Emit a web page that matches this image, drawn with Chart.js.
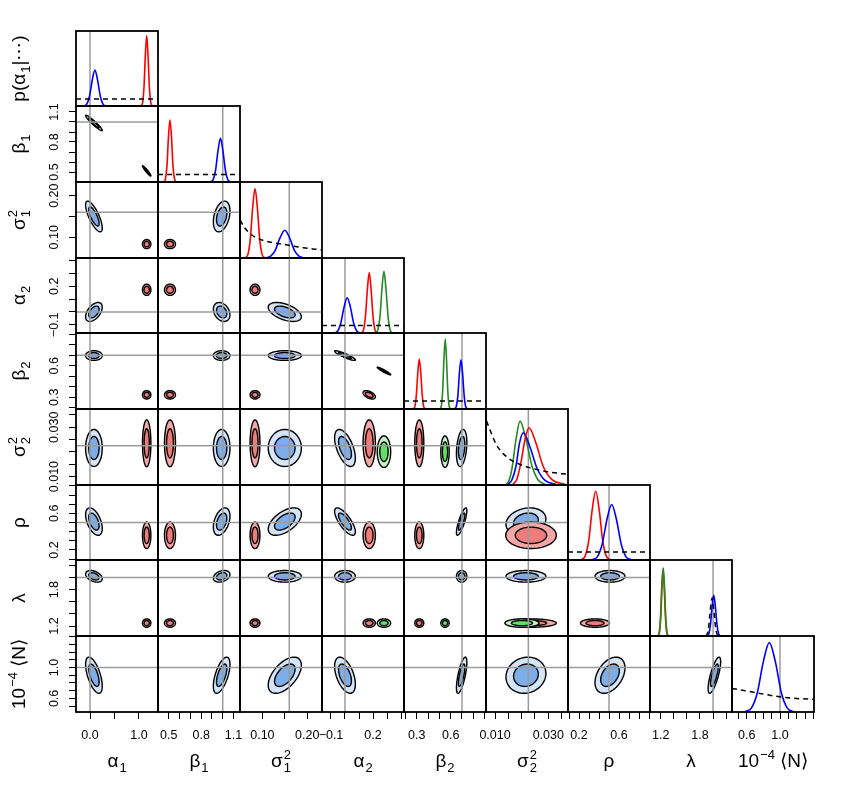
<!DOCTYPE html>
<html lang="en">
<head>
    <meta charset="UTF-8">
    <title>Posterior corner plot</title>
    <script src="https://cdn.jsdelivr.net/npm/chart.js"></script>
    <style>
        body { margin: 0; background: #fff; }
        #plot { position: relative; width: 844px; height: 788px; overflow: hidden; }
        #plot canvas { position: absolute; }
    </style>
</head>
<body>
<div id="plot"></div>
<script>
    // Parameters: a1, b1, s1^2, a2, b2, s2^2, rho, lambda, 1e-4 <N>
    const axisMin = [-0.286, 0.40, 0.05, -0.164, 0.188, 0.0066, 0.09, 1.037, 0.424];
    const axisMax = [1.388, 1.16, 0.233, 0.421, 0.912, 0.0374, 0.91, 2.289, 1.408];
    const trueValues = [0, 1.0, 0.16, 0.0, 0.7, 0.0225, 0.5, 2.0, 1.0];

    const tickValues = [
        [0, 0.5, 1.0],
        [0.5, 0.6, 0.7, 0.8, 0.9, 1.0, 1.1],
        [0.10, 0.15, 0.20],
        [-0.1, 0, 0.1, 0.2, 0.3, 0.4],
        [0.2, 0.3, 0.4, 0.5, 0.6, 0.7, 0.8, 0.9],
        [0.010, 0.015, 0.020, 0.025, 0.030, 0.035],
        [0.1, 0.2, 0.3, 0.4, 0.5, 0.6, 0.7, 0.8, 0.9],
        [1.2, 1.4, 1.6, 1.8, 2.0, 2.2],
        [0.5, 0.6, 0.7, 0.8, 0.9, 1.0, 1.1, 1.2, 1.3, 1.4]
    ];
    const tickLabels = [
        ['0.0', '', '1.0'],
        ['0.5', '', '', '0.8', '', '', '1.1'],
        ['0.10', '', '0.20'],
        ['\u22120.1', '', '', '0.2', '', ''],
        ['', '0.3', '', '', '0.6', '', '', ''],
        ['0.010', '', '', '', '0.030', ''],
        ['', '0.2', '', '', '', '0.6', '', '', ''],
        ['1.2', '', '', '1.8', '', ''],
        ['', '0.6', '', '', '', '1.0', '', '', '', '']
    ];

    // posterior summaries (centre, half-width of outer contour)
    const centerBlue = [0.08, 0.99, 0.150, 0.0, 0.697, 0.0216, 0.51, 2.02, 0.90];
    const spreadBlue = [0.17, 0.077, 0.037, 0.074, 0.046, 0.0075, 0.15, 0.096, 0.234];
    const centerRed = [1.157, 0.511, 0.0835, 0.173, 0.323, 0.0235, 0.36, 1.25, null];
    const spreadRed = [0.086, 0.051, 0.011, 0.044, 0.040, 0.0095, 0.145, 0.069, null];
    const centerGreen = [null, null, null, 0.278, 0.55, 0.0201, null, 1.25, null];
    const spreadGreen = [null, null, null, 0.048, 0.037, 0.0064, null, 0.069, null];

    // [param a, param b, correlation]
    const corrBlue = [
        [0, 1, -0.95], [0, 2, -0.75], [1, 2, 0.35], [0, 3, 0.5], [1, 3, -0.3], [2, 3, -0.5],
        [3, 4, -0.9], [3, 5, -0.55], [4, 5, 0.3],
        [0, 6, -0.5], [1, 6, 0.4], [2, 6, 0.55], [3, 6, -0.75], [4, 6, 0.8], [5, 6, 0.2],
        [0, 7, -0.4], [1, 7, 0.3],
        [0, 8, -0.6], [1, 8, 0.6], [2, 8, 0.55], [3, 8, -0.5], [4, 8, 0.7], [5, 8, 0.1], [6, 8, 0.4], [7, 8, 0.75]
    ];
    const corrRed = [[0, 1, -0.95], [3, 4, -0.5]];
    const corrGreen = [[3, 4, -0.95]];

    // marginal densities (x, relative height)
    const densA1 = [
        ['blue', [[-0.118, 0.003], [-0.063, 0.027], [-0.009, 0.133], [0.046, 0.347], [0.10, 0.478], [0.154, 0.347], [0.209, 0.133], [0.263, 0.027], [0.318, 0.003]]],
        ['red', [[1.048, 0.006], [1.075, 0.053], [1.103, 0.261], [1.130, 0.682], [1.157, 0.94], [1.184, 0.682], [1.211, 0.261], [1.239, 0.053], [1.266, 0.006]]],
        ['prior', [[-0.286, 0.095], [1.388, 0.095]]]
    ];
    const densB1 = [
        ['red', [[0.457, 0.005], [0.470, 0.046], [0.484, 0.228], [0.497, 0.595], [0.511, 0.82], [0.525, 0.595], [0.538, 0.228], [0.552, 0.046], [0.565, 0.005]]],
        ['blue', [[0.889, 0.003], [0.912, 0.032], [0.934, 0.160], [0.957, 0.418], [0.979, 0.576], [1.001, 0.418], [1.024, 0.160], [1.046, 0.032], [1.069, 0.003]]],
        ['prior', [[0.40, 0.10], [1.16, 0.10]]]
    ];
    const densS1 = [
        ['red', [[0.0627, 0.005], [0.0679, 0.051], [0.0731, 0.254], [0.0783, 0.664], [0.0835, 0.915], [0.0887, 0.664], [0.0939, 0.254], [0.0991, 0.051], [0.1043, 0.005]]],
        ['blue', [[0.1071, 0.002], [0.1178, 0.020], [0.1286, 0.101], [0.1393, 0.265], [0.150, 0.365], [0.1607, 0.265], [0.1714, 0.101], [0.1822, 0.020], [0.1929, 0.002]]],
        ['prior', [[0.05, 0.50], [0.06, 0.40], [0.072, 0.325], [0.085, 0.27], [0.102, 0.232], [0.125, 0.20], [0.147, 0.18], [0.17, 0.155], [0.191, 0.136], [0.212, 0.12], [0.233, 0.108]]]
    ];
    const densA2 = [
        ['blue', [[-0.075, 0.003], [-0.052, 0.026], [-0.030, 0.131], [-0.007, 0.341], [0.016, 0.47], [0.039, 0.341], [0.062, 0.131], [0.084, 0.026], [0.107, 0.003]]],
        ['red', [[0.120, 0.005], [0.133, 0.045], [0.146, 0.224], [0.160, 0.585], [0.173, 0.806], [0.186, 0.585], [0.200, 0.224], [0.213, 0.045], [0.226, 0.005]]],
        ['green', [[0.221, 0.005], [0.235, 0.046], [0.250, 0.229], [0.264, 0.597], [0.278, 0.823], [0.292, 0.597], [0.307, 0.229], [0.321, 0.046], [0.335, 0.005]]],
        ['prior', [[-0.164, 0.10], [0.421, 0.10]]]
    ];
    const densB2 = [
        ['red', [[0.272, 0.004], [0.285, 0.037], [0.297, 0.183], [0.310, 0.477], [0.323, 0.657], [0.336, 0.477], [0.349, 0.183], [0.361, 0.037], [0.374, 0.004]]],
        ['green', [[0.508, 0.006], [0.519, 0.052], [0.530, 0.256], [0.541, 0.668], [0.552, 0.92], [0.563, 0.668], [0.574, 0.256], [0.585, 0.052], [0.596, 0.006]]],
        ['blue', [[0.636, 0.004], [0.650, 0.036], [0.664, 0.180], [0.677, 0.470], [0.691, 0.647], [0.705, 0.470], [0.719, 0.180], [0.732, 0.036], [0.746, 0.004]]],
        ['prior', [[0.188, 0.106], [0.912, 0.106]]]
    ];
    const densS2 = [
        ['green', [[0.01411, 0.01], [0.01524, 0.06], [0.01637, 0.22], [0.01787, 0.60], [0.01937, 0.84], [0.02163, 0.60], [0.02388, 0.25], [0.02613, 0.07], [0.02877, 0.01]]],
        ['blue', [[0.01486, 0.01], [0.01637, 0.07], [0.01787, 0.25], [0.01918, 0.55], [0.02061, 0.687], [0.02313, 0.50], [0.02576, 0.22], [0.02877, 0.06], [0.03290, 0.01]]],
        ['red', [[0.01674, 0.01], [0.01824, 0.08], [0.01975, 0.30], [0.02125, 0.60], [0.02275, 0.753], [0.02538, 0.55], [0.02801, 0.25], [0.03139, 0.07], [0.03627, 0.01]]],
        ['prior', [[0.0068, 0.84], [0.0106, 0.525], [0.0144, 0.37], [0.0181, 0.29], [0.0244, 0.215], [0.0306, 0.17], [0.0374, 0.14]]]
    ];
    const densRho = [
        ['red', [[0.226, 0.006], [0.261, 0.052], [0.297, 0.256], [0.332, 0.668], [0.367, 0.92], [0.402, 0.668], [0.437, 0.256], [0.473, 0.052], [0.508, 0.006]]],
        ['blue', [[0.335, 0.004], [0.383, 0.041], [0.431, 0.206], [0.479, 0.537], [0.527, 0.74], [0.575, 0.537], [0.623, 0.206], [0.671, 0.041], [0.719, 0.004]]],
        ['prior', [[0.09, 0.107], [0.91, 0.107]]]
    ];
    const densLam = [
        ['red', [[1.159, 0.005], [1.178, 0.049], [1.197, 0.245], [1.216, 0.639], [1.235, 0.88], [1.254, 0.639], [1.273, 0.245], [1.292, 0.049], [1.311, 0.005]]],
        ['green', [[1.164, 0.005], [1.183, 0.050], [1.202, 0.249], [1.221, 0.650], [1.24, 0.896], [1.259, 0.650], [1.278, 0.249], [1.297, 0.050], [1.316, 0.005]]],
        ['blue', [[1.911, 0.003], [1.936, 0.030], [1.960, 0.148], [1.985, 0.388], [2.01, 0.534], [2.035, 0.388], [2.060, 0.148], [2.084, 0.030], [2.109, 0.003]]],
        ['prior', [[1.886, 0.003], [1.911, 0.028], [1.935, 0.139], [1.960, 0.363], [1.985, 0.50], [2.010, 0.363], [2.035, 0.139], [2.059, 0.028], [2.084, 0.003]]]
    ];
    const densN = [
        ['blue', [[0.584, 0.005], [0.656, 0.051], [0.728, 0.254], [0.800, 0.663], [0.872, 0.913], [0.944, 0.663], [1.016, 0.254], [1.088, 0.051], [1.160, 0.005]]],
        ['prior', [[0.424, 0.31], [0.604, 0.275], [0.803, 0.235], [1.0, 0.20], [1.2, 0.178], [1.408, 0.168]]]
    ];
    const densities = [densA1, densB1, densS1, densA2, densB2, densS2, densRho, densLam, densN];

    // axis titles
    const titles = [
        [{t: '\u03b1'}, {sub: '1'}],
        [{t: '\u03b2'}, {sub: '1'}],
        [{t: '\u03c3'}, {sub: '1', sup: '2'}],
        [{t: '\u03b1'}, {sub: '2'}],
        [{t: '\u03b2'}, {sub: '2'}],
        [{t: '\u03c3'}, {sub: '2', sup: '2'}],
        [{t: '\u03c1'}],
        [{t: '\u03bb'}],
        [{t: '10'}, {sup: '\u22124'}, {t: ' \u27e8N\u27e9'}]
    ];
    const densityTitle = [{t: 'p(\u03b1'}, {sub: '1'}, {t: '|\u22ef)'}];

    const FONT = '"Liberation Sans", Arial, Helvetica, sans-serif';
    const lineColor = {blue: '#0000ff', red: '#ff0000', green: '#228b22', prior: '#000000'};
    const fillOuter = {blue: '#d5e5f7', red: '#f5a7a7', green: '#c2f5c2'};
    const fillInner = {blue: '#7eaee9', red: '#ef7b7b', green: '#63e063'};
    const centers = {blue: centerBlue, red: centerRed, green: centerGreen};
    const spreads = {blue: spreadBlue, red: spreadRed, green: spreadGreen};
    const corrs = {blue: corrBlue, red: corrRed, green: corrGreen};

    const colEdges = [76, 158, 240, 322, 404, 486, 568, 650, 732, 814];
    const rowEdges = [31, 106, 182, 258, 333, 409, 485, 560, 636, 712];
    const BOTTOM = 788 - rowEdges[9];

    function lookupCorr(list, a, b) {
        const hit = list.find(c => (c[0] === a && c[1] === b) || (c[0] === b && c[1] === a));
        return hit ? hit[2] : 0;
    }

    function drawMath(ctx, spec, x, y, vertical) {
        const big = '19px ' + FONT, small = '13px ' + FONT;
        const widths = spec.map(tok => {
            if (tok.t) { ctx.font = big; return ctx.measureText(tok.t).width; }
            ctx.font = small;
            return Math.max(tok.sub ? ctx.measureText(tok.sub).width : 0, tok.sup ? ctx.measureText(tok.sup).width : 0) + 1;
        });
        const total = widths.reduce((s, w) => s + w, 0);
        ctx.save();
        ctx.translate(x, y);
        if (vertical) ctx.rotate(-Math.PI / 2);
        ctx.textAlign = 'left';
        ctx.textBaseline = 'alphabetic';
        ctx.fillStyle = '#000';
        let cx = -total / 2;
        spec.forEach((tok, k) => {
            if (tok.t) {
                ctx.font = big;
                ctx.fillText(tok.t, cx, 0);
            } else {
                ctx.font = small;
                if (tok.sub) ctx.fillText(tok.sub, cx + 1, 5);
                if (tok.sup) ctx.fillText(tok.sup, cx + 1, -8);
            }
            cx += widths[k];
        });
        ctx.restore();
    }

    const cornerPlugin = {
        id: 'corner',
        beforeDatasetsDraw(chart) {
            const o = chart.options.plugins.corner;
            const {ctx, chartArea: a, scales} = chart;
            ctx.save();
            ctx.beginPath();
            ctx.rect(a.left, a.top, a.right - a.left, a.bottom - a.top);
            ctx.clip();
            o.ellipses.forEach(e => {
                [[1, fillOuter[e.model]], [0.62, fillInner[e.model]]].forEach(([k, fill]) => {
                    ctx.beginPath();
                    for (let s = 0; s <= 72; s++) {
                        const t = s / 72 * 2 * Math.PI;
                        const vx = e.cx + k * e.sx * Math.cos(t);
                        const vy = e.cy + k * e.sy * (e.rho * Math.cos(t) + Math.sqrt(1 - e.rho * e.rho) * Math.sin(t));
                        const px = scales.x.getPixelForValue(vx);
                        const py = scales.y.getPixelForValue(vy);
                        if (s === 0) ctx.moveTo(px, py); else ctx.lineTo(px, py);
                    }
                    ctx.closePath();
                    ctx.fillStyle = fill;
                    ctx.fill();
                    ctx.lineWidth = 1.4;
                    ctx.strokeStyle = '#000';
                    ctx.stroke();
                });
            });
            ctx.restore();
        },
        afterDraw(chart) {
            const o = chart.options.plugins.corner;
            const {ctx, chartArea: a} = chart;
            ctx.save();
            ctx.strokeStyle = '#000';
            ctx.lineWidth = 1.8;
            ctx.strokeRect(a.left, a.top, a.right - a.left, a.bottom - a.top);
            ctx.fillStyle = '#000';
            if (o.yTicks) {
                ctx.font = '12.5px ' + FONT;
                ctx.textAlign = 'center';
                ctx.textBaseline = 'alphabetic';
                tickValues[o.row].forEach((v, k) => {
                    const lab = tickLabels[o.row][k];
                    if (!lab) return;
                    ctx.save();
                    ctx.translate(57.5 - o.left, chart.scales.y.getPixelForValue(v));
                    ctx.rotate(-Math.PI / 2);
                    ctx.fillText(lab, 0, 0);
                    ctx.restore();
                });
            }
            if (o.rowTitle) drawMath(ctx, o.rowTitle, 25 - o.left, (a.top + a.bottom) / 2, true);
            if (o.colTitle) drawMath(ctx, o.colTitle, (a.left + a.right) / 2, 767 - o.top, false);
            ctx.restore();
        }
    };

    function axisOptions(k, min, max, show, pos) {
        return {
            type: 'linear', position: pos, min: min, max: max, display: show, bounds: 'data',
            afterBuildTicks: s => { if (k !== null) s.ticks = tickValues[k].map(v => ({value: v})); },
            afterFit: s => {
                if (pos === 'bottom') s.height = show ? BOTTOM : 0; else s.width = 0;
                s.paddingLeft = 0; s.paddingRight = 0; s.paddingTop = 0; s.paddingBottom = 0;
            },
            ticks: {
                display: pos === 'bottom', autoSkip: false, maxRotation: 0, minRotation: 0, padding: 9,
                color: '#000', font: {family: FONT, size: 12.5},
                callback: (v, idx) => (k !== null ? tickLabels[k][idx] : '')
            },
            grid: {drawOnChartArea: false, drawTicks: true, tickLength: 7, color: '#000', lineWidth: 1},
            border: {display: false}
        };
    }

    const plot = document.getElementById('plot');

    function makePanel(i, j) {
        const diag = i === j;
        // spare room round the box so that labels near the edges are not cut
        const side = i === 8 ? 26 : 4;
        const padL = j === 0 ? colEdges[0] : side, padR = side;
        const padT = j === 0 ? 20 : 4;
        const padB = i === 8 ? BOTTOM : (j === 0 ? 20 : 4);
        const w = colEdges[j + 1] - colEdges[j] + padL + padR;
        const h = rowEdges[i + 1] - rowEdges[i] + padT + padB;
        const left = colEdges[j] - padL, top = rowEdges[i] - padT;
        const canvas = document.createElement('canvas');
        canvas.width = w; canvas.height = h;
        canvas.style.left = left + 'px'; canvas.style.top = top + 'px';
        canvas.style.width = w + 'px'; canvas.style.height = h + 'px';
        plot.appendChild(canvas);

        const yMin = diag ? 0 : axisMin[i], yMax = diag ? 1 : axisMax[i];
        const datasets = [];
        const greyLine = pts => ({data: pts, borderColor: '#9b9b9b', borderWidth: 1.5, pointRadius: 0});
        datasets.push(greyLine([{x: trueValues[j], y: yMin}, {x: trueValues[j], y: yMax}]));
        if (!diag) datasets.push(greyLine([{x: axisMin[j], y: trueValues[i]}, {x: axisMax[j], y: trueValues[i]}]));
        if (diag) {
            densities[i].forEach(([model, pts]) => datasets.push({
                data: pts.map(([x, y]) => ({x, y})),
                borderColor: lineColor[model],
                borderWidth: model === 'prior' ? 1.5 : 1.6,
                borderDash: model === 'prior' ? [5, 4] : [],
                pointRadius: 0,
                cubicInterpolationMode: 'monotone'
            }));
        }
        datasets.forEach((d, k) => { d.order = datasets.length - k; d.fill = false; });

        const ellipses = [];
        if (!diag) {
            ['blue', 'red', 'green'].forEach(m => {
                const c = centers[m], s = spreads[m];
                if (c[i] === null || c[j] === null) return;
                ellipses.push({model: m, cx: c[j], cy: c[i], sx: s[j], sy: s[i], rho: lookupCorr(corrs[m], i, j)});
            });
        }

        new Chart(canvas, {
            type: 'line',
            data: {datasets},
            options: {
                responsive: false, animation: false, devicePixelRatio: 1, events: [],
                layout: {padding: {left: padL, right: padR, top: padT, bottom: i === 8 ? 0 : padB}},
                plugins: {
                    legend: {display: false}, tooltip: {enabled: false},
                    corner: {
                        ellipses, row: i, left, top,
                        yTicks: j === 0 && i > 0,
                        rowTitle: j === 0 ? (i === 0 ? densityTitle : titles[i]) : null,
                        colTitle: i === 8 ? titles[j] : null
                    }
                },
                scales: {
                    x: axisOptions(j, axisMin[j], axisMax[j], i === 8, 'bottom'),
                    y: axisOptions(diag ? null : i, yMin, yMax, j === 0 && i > 0, 'left')
                }
            },
            plugins: [cornerPlugin]
        });
    }

    for (let i = 0; i < 9; i++) {
        for (let j = 0; j <= i; j++) makePanel(i, j);
    }
</script>
</body>
</html>
